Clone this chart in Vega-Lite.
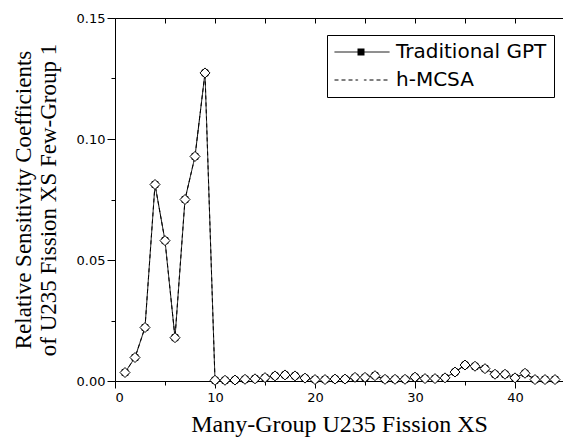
{
  "$schema": "https://vega.github.io/schema/vega-lite/v6.json",
  "autosize": {"type": "none"},
  "padding": {"left": 115, "top": 18, "right": 0, "bottom": 58},
  "width": 448,
  "height": 363,
  "background": "white",
  "config": {
    "view": {"stroke": null},
    "axis": {"domainColor": "black", "tickColor": "black", "labelColor": "black", "titleColor": "black", "grid": false, "labelFont": "DejaVu Sans", "labelFontSize": 13, "titleFont": "Liberation Serif", "titleFontSize": 24, "titleFontWeight": "normal", "domainWidth": 1, "tickWidth": 1}
  },
  "data": {"values": [
    {"group": 1, "Traditional GPT": 0.0035, "h-MCSA": 0.0035},
    {"group": 2, "Traditional GPT": 0.0097, "h-MCSA": 0.0097},
    {"group": 3, "Traditional GPT": 0.0221, "h-MCSA": 0.0221},
    {"group": 4, "Traditional GPT": 0.0812, "h-MCSA": 0.0812},
    {"group": 5, "Traditional GPT": 0.058, "h-MCSA": 0.058},
    {"group": 6, "Traditional GPT": 0.0179, "h-MCSA": 0.0179},
    {"group": 7, "Traditional GPT": 0.075, "h-MCSA": 0.075},
    {"group": 8, "Traditional GPT": 0.0928, "h-MCSA": 0.0928},
    {"group": 9, "Traditional GPT": 0.1273, "h-MCSA": 0.1273},
    {"group": 10, "Traditional GPT": 0.0003, "h-MCSA": 0.0003},
    {"group": 11, "Traditional GPT": 0.0003, "h-MCSA": 0.0003},
    {"group": 12, "Traditional GPT": 0.0004, "h-MCSA": 0.0004},
    {"group": 13, "Traditional GPT": 0.0007, "h-MCSA": 0.0007},
    {"group": 14, "Traditional GPT": 0.0009, "h-MCSA": 0.0009},
    {"group": 15, "Traditional GPT": 0.0014, "h-MCSA": 0.0014},
    {"group": 16, "Traditional GPT": 0.0021, "h-MCSA": 0.0021},
    {"group": 17, "Traditional GPT": 0.0025, "h-MCSA": 0.0025},
    {"group": 18, "Traditional GPT": 0.0021, "h-MCSA": 0.0021},
    {"group": 19, "Traditional GPT": 0.0012, "h-MCSA": 0.0012},
    {"group": 20, "Traditional GPT": 0.0006, "h-MCSA": 0.0006},
    {"group": 21, "Traditional GPT": 0.0006, "h-MCSA": 0.0006},
    {"group": 22, "Traditional GPT": 0.0008, "h-MCSA": 0.0008},
    {"group": 23, "Traditional GPT": 0.0008, "h-MCSA": 0.0008},
    {"group": 24, "Traditional GPT": 0.0015, "h-MCSA": 0.0015},
    {"group": 25, "Traditional GPT": 0.0015, "h-MCSA": 0.0015},
    {"group": 26, "Traditional GPT": 0.0022, "h-MCSA": 0.0022},
    {"group": 27, "Traditional GPT": 0.0007, "h-MCSA": 0.0007},
    {"group": 28, "Traditional GPT": 0.0007, "h-MCSA": 0.0007},
    {"group": 29, "Traditional GPT": 0.0007, "h-MCSA": 0.0007},
    {"group": 30, "Traditional GPT": 0.0016, "h-MCSA": 0.0016},
    {"group": 31, "Traditional GPT": 0.001, "h-MCSA": 0.001},
    {"group": 32, "Traditional GPT": 0.001, "h-MCSA": 0.001},
    {"group": 33, "Traditional GPT": 0.0013, "h-MCSA": 0.0013},
    {"group": 34, "Traditional GPT": 0.0037, "h-MCSA": 0.0037},
    {"group": 35, "Traditional GPT": 0.0066, "h-MCSA": 0.0066},
    {"group": 36, "Traditional GPT": 0.0061, "h-MCSA": 0.0061},
    {"group": 37, "Traditional GPT": 0.0051, "h-MCSA": 0.0051},
    {"group": 38, "Traditional GPT": 0.0028, "h-MCSA": 0.0028},
    {"group": 39, "Traditional GPT": 0.0028, "h-MCSA": 0.0028},
    {"group": 40, "Traditional GPT": 0.0013, "h-MCSA": 0.0013},
    {"group": 41, "Traditional GPT": 0.0032, "h-MCSA": 0.0032},
    {"group": 42, "Traditional GPT": 0.0006, "h-MCSA": 0.0006},
    {"group": 43, "Traditional GPT": 0.0006, "h-MCSA": 0.0006},
    {"group": 44, "Traditional GPT": 0.0006, "h-MCSA": 0.0006}
  ]},
  "transform": [{"fold": ["Traditional GPT", "h-MCSA"], "as": ["series", "value"]}],
  "layer": [
    {
      "mark": {"type": "line", "color": "black", "strokeWidth": 1},
      "encoding": {
        "x": {"field": "group", "type": "quantitative", "scale": {"domain": [0, 44.8], "nice": false, "zero": false},
          "axis": {"orient": "bottom", "values": [0, 5, 10, 15, 20, 25, 30, 35, 40], "labelExpr": "datum.value % 10 === 0 ? datum.label : ''", "tickSize": {"condition": {"test": "datum.value % 10 === 0", "value": 7}, "value": 4}, "labelPadding": 3, "title": "Many-Group U235 Fission XS", "titlePadding": 8}},
        "y": {"field": "value", "type": "quantitative", "scale": {"domain": [0, 0.15], "nice": false},
          "axis": {"values": [0, 0.025, 0.05, 0.075, 0.1, 0.125, 0.15], "format": ".2f", "labelExpr": "(round(datum.value * 1000) % 50 === 0) ? datum.label : ''", "tickSize": {"condition": {"test": "round(datum.value * 1000) % 50 === 0", "value": 8}, "value": 4}, "labelPadding": 2, "title": ["Relative Sensitivity Coefficients", "of U235 Fission XS Few-Group 1"], "titleFontSize": 23, "titleLineHeight": 25, "titlePadding": 16}},
        "strokeDash": {"field": "series", "type": "nominal", "scale": {"range": [[1, 0], [4, 3]]},
          "legend": {"title": null, "orient": "none", "legendX": 212, "legendY": 17, "padding": 7, "strokeColor": "black", "fillColor": null, "rowPadding": 8, "clipHeight": 20, "symbolType": "stroke", "symbolSize": 3025, "symbolStrokeWidth": 1, "symbolStrokeColor": "black", "labelOffset": 6, "labelFont": "DejaVu Sans", "labelFontSize": 20, "labelColor": "black", "labelLimit": 300, "zindex": 0}}
      }
    },
    {
      "mark": {"type": "point", "filled": false, "stroke": "black", "strokeWidth": 1, "opacity": 1},
      "encoding": {
        "x": {"field": "group", "type": "quantitative",
          "axis": {"orient": "top", "values": [0, 5, 10, 15, 20, 25, 30, 35, 40], "labels": false, "ticks": true, "tickSize": -5, "tickColor": "black", "tickWidth": 1, "title": null}},
        "y": {"field": "value", "type": "quantitative"},
        "shape": {"field": "series", "type": "nominal", "scale": {"domain": ["Traditional GPT", "h-MCSA"], "range": ["square", "diamond"]},
          "legend": {"title": null, "orient": "none", "legendX": 229, "legendY": 17, "padding": 7, "strokeColor": null, "fillColor": null, "rowPadding": 8, "clipHeight": 20, "symbolSize": 49, "symbolStrokeWidth": 1, "symbolStrokeColor": "black", "labelFont": "DejaVu Sans", "labelFontSize": 20, "labelExpr": "''", "labelLimit": 300, "zindex": 2}},
        "fill": {"field": "series", "type": "nominal", "scale": {"domain": ["Traditional GPT", "h-MCSA"], "range": ["black", "white"]}},
        "size": {"condition": {"test": "datum.series === 'Traditional GPT'", "value": 36}, "value": 100}
      }
    }
  ],
  "resolve": {"axis": {"x": "independent"}}
}
